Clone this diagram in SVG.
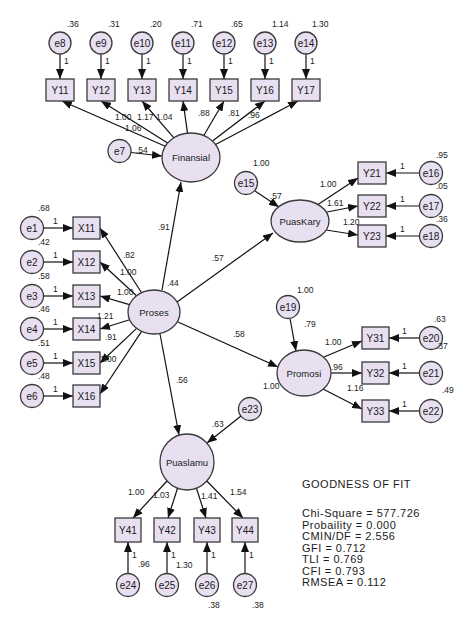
<svg xmlns="http://www.w3.org/2000/svg" width="467" height="628" viewBox="0 0 467 628">
<defs>
<marker id="ah" viewBox="0 0 10 8" refX="10" refY="4" markerWidth="10" markerHeight="8" markerUnits="userSpaceOnUse" orient="auto"><path d="M0,0 L10,4 L0,8 z" fill="#111"/></marker>
<style>
.sh{fill:#E8E0F1;stroke:#3a3a3a;stroke-width:1.3}
.c line{stroke:#111;stroke-width:1.2;marker-end:url(#ah)}
text{font-family:"Liberation Sans",Arial,sans-serif;fill:#1a1a1a}
.t{font-size:10px;text-anchor:middle}
.lt{font-size:9.5px;text-anchor:middle}
.n{font-size:8.5px;fill:#222}
.g{font-size:11px;letter-spacing:0.5px}
</style>
</defs>
<rect width="467" height="628" fill="#fff"/>

<g id="labels-behind">
<text class="n" x="263" y="389">1.00</text>
<text class="n" x="100" y="362">1.00</text>
</g>

<g class="c" id="connectors">
<line x1="60" y1="54.5" x2="60" y2="79"/>
<line x1="101" y1="54.5" x2="101" y2="79"/>
<line x1="142" y1="54.5" x2="142" y2="79"/>
<line x1="183" y1="54.5" x2="183" y2="79"/>
<line x1="224" y1="54.5" x2="224" y2="79"/>
<line x1="265" y1="54.5" x2="265" y2="79"/>
<line x1="306" y1="54.5" x2="306" y2="79"/>
<line x1="165.3" y1="146.2" x2="62" y2="101"/>
<line x1="167.6" y1="143" x2="101" y2="101"/>
<line x1="173.9" y1="137.8" x2="142" y2="101"/>
<line x1="187.5" y1="133.1" x2="183" y2="101"/>
<line x1="203.8" y1="135.5" x2="224" y2="101"/>
<line x1="212.5" y1="141.1" x2="265" y2="101"/>
<line x1="215.6" y1="144.5" x2="298" y2="101"/>
<line x1="131" y1="152.5" x2="162" y2="156"/>
<line x1="43.5" y1="228" x2="73" y2="228"/>
<line x1="43.5" y1="262" x2="73" y2="262"/>
<line x1="43.5" y1="296" x2="73" y2="296"/>
<line x1="43.5" y1="329" x2="73" y2="329"/>
<line x1="43.5" y1="363" x2="73" y2="363"/>
<line x1="43.5" y1="396" x2="73" y2="396"/>
<line x1="141.6" y1="292.7" x2="100" y2="228"/>
<line x1="136.5" y1="295.8" x2="100" y2="262"/>
<line x1="129.5" y1="304.7" x2="100" y2="296"/>
<line x1="129.6" y1="319.7" x2="100" y2="329"/>
<line x1="136.6" y1="328.4" x2="100" y2="363"/>
<line x1="141.6" y1="331.3" x2="100" y2="394"/>
<line x1="162" y1="290" x2="181" y2="182"/>
<line x1="177" y1="302" x2="273" y2="233"/>
<line x1="178" y1="322" x2="278" y2="367"/>
<line x1="160" y1="334" x2="179" y2="435"/>
<line x1="255" y1="191" x2="279" y2="207"/>
<line x1="318" y1="204.5" x2="358" y2="178"/>
<line x1="327" y1="212" x2="358" y2="206"/>
<line x1="326" y1="230" x2="358" y2="235"/>
<line x1="419.5" y1="173" x2="386" y2="173"/>
<line x1="419.5" y1="206" x2="386" y2="206"/>
<line x1="419.5" y1="236" x2="386" y2="236"/>
<line x1="290" y1="318.5" x2="296" y2="351"/>
<line x1="324" y1="357" x2="362" y2="341"/>
<line x1="331" y1="373" x2="362" y2="373"/>
<line x1="323" y1="389" x2="362" y2="409"/>
<line x1="419.5" y1="338" x2="389" y2="338"/>
<line x1="419.5" y1="373" x2="389" y2="373"/>
<line x1="419.5" y1="411" x2="389" y2="411"/>
<line x1="241" y1="416" x2="207" y2="443"/>
<line x1="167" y1="481" x2="133" y2="518"/>
<line x1="177.6" y1="488" x2="168" y2="518"/>
<line x1="196.4" y1="488" x2="206" y2="518"/>
<line x1="206.8" y1="481" x2="243" y2="518"/>
<line x1="128" y1="573.5" x2="128" y2="542"/>
<line x1="167" y1="573.5" x2="167" y2="542"/>
<line x1="207" y1="573.5" x2="207" y2="542"/>
<line x1="245" y1="573.5" x2="245" y2="542"/>
</g>

<g id="e8"><circle class="sh" cx="60" cy="43" r="11"/><text class="t" x="60" y="47">e8</text></g>
<g id="e9"><circle class="sh" cx="101" cy="43" r="11"/><text class="t" x="101" y="47">e9</text></g>
<g id="e10"><circle class="sh" cx="142" cy="43" r="11"/><text class="t" x="142" y="47">e10</text></g>
<g id="e11"><circle class="sh" cx="183" cy="43" r="11"/><text class="t" x="183" y="47">e11</text></g>
<g id="e12"><circle class="sh" cx="224" cy="43" r="11"/><text class="t" x="224" y="47">e12</text></g>
<g id="e13"><circle class="sh" cx="265" cy="43" r="11"/><text class="t" x="265" y="47">e13</text></g>
<g id="e14"><circle class="sh" cx="306" cy="43" r="11"/><text class="t" x="306" y="47">e14</text></g>

<g id="Y11"><rect class="sh" x="46" y="79" width="28" height="22"/><text class="t" x="60" y="94">Y11</text></g>
<g id="Y12"><rect class="sh" x="87" y="79" width="28" height="22"/><text class="t" x="101" y="94">Y12</text></g>
<g id="Y13"><rect class="sh" x="128" y="79" width="28" height="22"/><text class="t" x="142" y="94">Y13</text></g>
<g id="Y14"><rect class="sh" x="169" y="79" width="28" height="22"/><text class="t" x="183" y="94">Y14</text></g>
<g id="Y15"><rect class="sh" x="210" y="79" width="28" height="22"/><text class="t" x="224" y="94">Y15</text></g>
<g id="Y16"><rect class="sh" x="251" y="79" width="28" height="22"/><text class="t" x="265" y="94">Y16</text></g>
<g id="Y17"><rect class="sh" x="292" y="79" width="28" height="22"/><text class="t" x="306" y="94">Y17</text></g>

<g id="Finansial"><ellipse class="sh" cx="191" cy="157.5" rx="29" ry="24.5"/><text class="lt" x="191" y="161">Finansial</text></g>
<g id="e7"><circle class="sh" cx="119.5" cy="151" r="11.5"/><text class="t" x="119.5" y="155">e7</text></g>

<g id="e1"><circle class="sh" cx="32" cy="228" r="11.5"/><text class="t" x="32" y="232">e1</text></g>
<g id="e2"><circle class="sh" cx="32" cy="262" r="11.5"/><text class="t" x="32" y="266">e2</text></g>
<g id="e3"><circle class="sh" cx="32" cy="296" r="11.5"/><text class="t" x="32" y="300">e3</text></g>
<g id="e4"><circle class="sh" cx="32" cy="329" r="11.5"/><text class="t" x="32" y="333">e4</text></g>
<g id="e5"><circle class="sh" cx="32" cy="363" r="11.5"/><text class="t" x="32" y="367">e5</text></g>
<g id="e6"><circle class="sh" cx="32" cy="396" r="11.5"/><text class="t" x="32" y="400">e6</text></g>

<g id="X11"><rect class="sh" x="73" y="217" width="27" height="22"/><text class="t" x="86.5" y="232">X11</text></g>
<g id="X12"><rect class="sh" x="73" y="251" width="27" height="22"/><text class="t" x="86.5" y="266">X12</text></g>
<g id="X13"><rect class="sh" x="73" y="285" width="27" height="22"/><text class="t" x="86.5" y="300">X13</text></g>
<g id="X14"><rect class="sh" x="73" y="318" width="27" height="22"/><text class="t" x="86.5" y="333">X14</text></g>
<g id="X15"><rect class="sh" x="73" y="352" width="27" height="22"/><text class="t" x="86.5" y="367">X15</text></g>
<g id="X16"><rect class="sh" x="73" y="385" width="27" height="22"/><text class="t" x="86.5" y="400">X16</text></g>

<g id="Proses"><ellipse class="sh" cx="154" cy="312" rx="26" ry="22"/><text class="lt" x="154" y="315.5">Proses</text></g>

<g id="PuasKary"><ellipse class="sh" cx="300" cy="221" rx="29" ry="21"/><text class="lt" x="300" y="224.5">PuasKary</text></g>
<g id="e15"><circle class="sh" cx="246" cy="183" r="11.5"/><text class="t" x="246" y="187">e15</text></g>
<g id="Y21"><rect class="sh" x="358" y="162" width="28" height="22"/><text class="t" x="372" y="177">Y21</text></g>
<g id="Y22"><rect class="sh" x="358" y="195" width="28" height="22"/><text class="t" x="372" y="210">Y22</text></g>
<g id="Y23"><rect class="sh" x="358" y="225" width="28" height="22"/><text class="t" x="372" y="240">Y23</text></g>
<g id="e16"><circle class="sh" cx="431" cy="173" r="11.5"/><text class="t" x="431" y="177">e16</text></g>
<g id="e17"><circle class="sh" cx="431" cy="206" r="11.5"/><text class="t" x="431" y="210">e17</text></g>
<g id="e18"><circle class="sh" cx="431" cy="236" r="11.5"/><text class="t" x="431" y="240">e18</text></g>

<g id="Promosi"><ellipse class="sh" cx="304" cy="373" rx="27" ry="23"/><text class="lt" x="304" y="376.5">Promosi</text></g>
<g id="e19"><circle class="sh" cx="288" cy="307" r="11.5"/><text class="t" x="288" y="311">e19</text></g>
<g id="Y31"><rect class="sh" x="362" y="327" width="27" height="22"/><text class="t" x="375.5" y="342">Y31</text></g>
<g id="Y32"><rect class="sh" x="362" y="362" width="27" height="22"/><text class="t" x="375.5" y="377">Y32</text></g>
<g id="Y33"><rect class="sh" x="362" y="400" width="27" height="22"/><text class="t" x="375.5" y="415">Y33</text></g>
<g id="e20"><circle class="sh" cx="431" cy="338" r="11.5"/><text class="t" x="431" y="342">e20</text></g>
<g id="e21"><circle class="sh" cx="431" cy="373" r="11.5"/><text class="t" x="431" y="377">e21</text></g>
<g id="e22"><circle class="sh" cx="431" cy="411" r="11.5"/><text class="t" x="431" y="415">e22</text></g>

<g id="Puaslamu"><ellipse class="sh" cx="187" cy="462" rx="27" ry="28"/><text class="lt" x="187" y="465.5">Puaslamu</text></g>
<g id="e23"><circle class="sh" cx="250" cy="409" r="11.5"/><text class="t" x="250" y="413">e23</text></g>
<g id="Y41"><rect class="sh" x="115" y="518" width="26" height="24"/><text class="t" x="128" y="534">Y41</text></g>
<g id="Y42"><rect class="sh" x="154" y="518" width="26" height="24"/><text class="t" x="167" y="534">Y42</text></g>
<g id="Y43"><rect class="sh" x="194" y="518" width="26" height="24"/><text class="t" x="207" y="534">Y43</text></g>
<g id="Y44"><rect class="sh" x="232" y="518" width="26" height="24"/><text class="t" x="245" y="534">Y44</text></g>
<g id="e24"><circle class="sh" cx="128" cy="585" r="11.5"/><text class="t" x="128" y="589">e24</text></g>
<g id="e25"><circle class="sh" cx="167" cy="585" r="11.5"/><text class="t" x="167" y="589">e25</text></g>
<g id="e26"><circle class="sh" cx="207" cy="585" r="11.5"/><text class="t" x="207" y="589">e26</text></g>
<g id="e27"><circle class="sh" cx="245" cy="585" r="11.5"/><text class="t" x="245" y="589">e27</text></g>

<g id="estimates">
<text class="n" x="67" y="27">.36</text>
<text class="n" x="108" y="27">.31</text>
<text class="n" x="150" y="27">.20</text>
<text class="n" x="191" y="27">.71</text>
<text class="n" x="231" y="27">.65</text>
<text class="n" x="272" y="27">1.14</text>
<text class="n" x="312" y="27">1.30</text>
<text class="n" x="64" y="64">1</text>
<text class="n" x="105" y="64">1</text>
<text class="n" x="146" y="64">1</text>
<text class="n" x="187" y="64">1</text>
<text class="n" x="228" y="64">1</text>
<text class="n" x="269" y="64">1</text>
<text class="n" x="310" y="64">1</text>
<text class="n" x="115" y="120">1.00</text>
<text class="n" x="137" y="120">1.17</text>
<text class="n" x="156" y="120">1.04</text>
<text class="n" x="125" y="131">1.06</text>
<text class="n" x="198" y="116">.88</text>
<text class="n" x="228" y="116">.81</text>
<text class="n" x="248" y="118">.96</text>
<text class="n" x="136" y="153">.54</text>

<text class="n" x="38" y="211">.68</text>
<text class="n" x="38" y="245">.42</text>
<text class="n" x="38" y="279">.58</text>
<text class="n" x="38" y="312">.46</text>
<text class="n" x="38" y="346">.51</text>
<text class="n" x="38" y="379">.48</text>
<text class="n" x="53" y="224">1</text>
<text class="n" x="53" y="258">1</text>
<text class="n" x="53" y="292">1</text>
<text class="n" x="53" y="325">1</text>
<text class="n" x="53" y="359">1</text>
<text class="n" x="53" y="392">1</text>
<text class="n" x="123" y="258">.82</text>
<text class="n" x="120" y="275">1.00</text>
<text class="n" x="117" y="295">1.00</text>
<text class="n" x="97" y="319">1.21</text>
<text class="n" x="105" y="340">.91</text>
<text class="n" x="167" y="286">.44</text>
<text class="n" x="158" y="230">.91</text>
<text class="n" x="212" y="261">.57</text>
<text class="n" x="233" y="337">.58</text>
<text class="n" x="176" y="383">.56</text>

<text class="n" x="253" y="166">1.00</text>
<text class="n" x="270" y="199">.57</text>
<text class="n" x="320" y="187">1.00</text>
<text class="n" x="327" y="206">1.61</text>
<text class="n" x="343" y="225">1.20</text>
<text class="n" x="436" y="158">.95</text>
<text class="n" x="436" y="189">.05</text>
<text class="n" x="436" y="222">.36</text>
<text class="n" x="400" y="169">1</text>
<text class="n" x="400" y="202">1</text>
<text class="n" x="400" y="232">1</text>

<text class="n" x="297" y="293">1.00</text>
<text class="n" x="304" y="327">.79</text>
<text class="n" x="325" y="345">1.00</text>
<text class="n" x="331" y="370">.96</text>
<text class="n" x="347" y="391">1.16</text>
<text class="n" x="434" y="322">.63</text>
<text class="n" x="436" y="349">.37</text>
<text class="n" x="442" y="393">.49</text>
<text class="n" x="402" y="334">1</text>
<text class="n" x="402" y="369">1</text>
<text class="n" x="402" y="407">1</text>

<text class="n" x="212" y="427">.63</text>
<text class="n" x="128" y="495">1.00</text>
<text class="n" x="153" y="498">1.03</text>
<text class="n" x="201" y="499">1.41</text>
<text class="n" x="230" y="495">1.54</text>
<text class="n" x="132" y="558">1</text>
<text class="n" x="171" y="558">1</text>
<text class="n" x="211" y="558">1</text>
<text class="n" x="249" y="558">1</text>
<text class="n" x="138" y="567">.96</text>
<text class="n" x="176" y="568">1.30</text>
<text class="n" x="208" y="608">.38</text>
<text class="n" x="252" y="608">.38</text>
</g>

<g id="fit">
<text class="g" x="302" y="488">GOODNESS OF FIT</text>
<text class="g" x="302" y="517">Chi-Square = 577.726</text>
<text class="g" x="302" y="528.5">Probaility = 0.000</text>
<text class="g" x="302" y="540">CMIN/DF = 2.556</text>
<text class="g" x="302" y="551.5">GFI = 0.712</text>
<text class="g" x="302" y="563">TLI = 0.769</text>
<text class="g" x="302" y="574.5">CFI = 0.793</text>
<text class="g" x="302" y="586">RMSEA = 0.112</text>
</g>
</svg>
